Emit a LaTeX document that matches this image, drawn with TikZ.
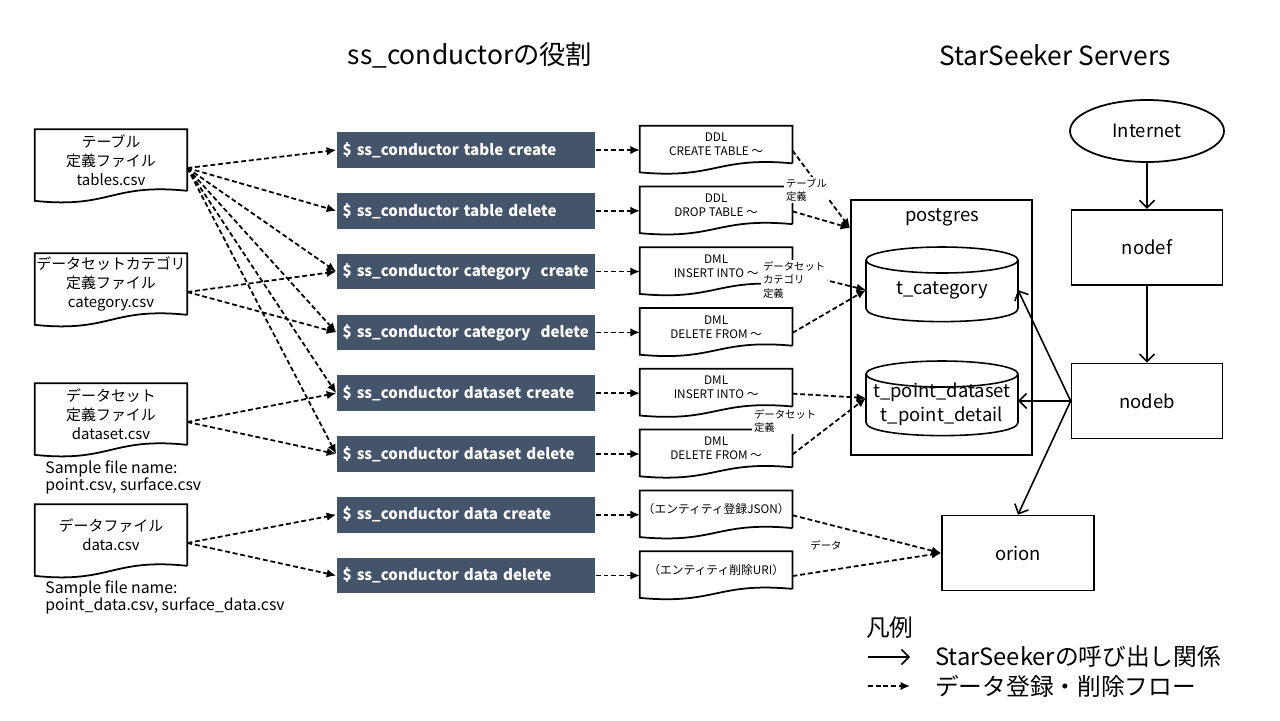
\documentclass[tikz,border=0pt]{standalone}
\usepackage{fontspec}
\setmainfont{Noto Sans CJK JP}
\usetikzlibrary{positioning,arrows.meta,shapes.geometric}
\definecolor{cmdblue}{HTML}{44546A}

\begin{document}
\begin{tikzpicture}[x=0.02cm, y=-0.02cm,
    doc/.style={minimum width=3.04cm, minimum height=1.22cm, inner sep=0pt, align=center, font=\fontsize{8.5}{10.8}\selectfont},
    sqldoc/.style={minimum width=3.04cm, minimum height=0.74cm, inner sep=0pt, align=center, font=\fontsize{6.7}{8}\selectfont},
    cmd/.style={fill=cmdblue, text=white, minimum height=0.71cm, text width=4.94cm, inner xsep=0.12cm, inner ysep=0pt, align=left, font=\fontsize{8.6}{10}\selectfont\bfseries},
    server/.style={draw, line width=1pt, minimum width=3.02cm, minimum height=1.5cm, font=\fontsize{10.5}{12}\selectfont},
    tbl/.style={minimum width=3.04cm, inner sep=0pt, align=center, font=\fontsize{10.5}{13.6}\selectfont},
    flow/.style={dash pattern=on 2.8pt off 1.6pt, line width=1pt, -{Latex[length=1.9mm,width=1.7mm]}},
    call/.style={line width=0.9pt, -{Straight Barb[length=1.5mm,width=3mm]}},
    memo/.style={fill=white, inner sep=1pt, align=left, font=\fontsize{5.9}{7.6}\selectfont},
    sample/.style={anchor=north west, inner sep=0pt, align=left, font=\fontsize{9}{9.8}\selectfont},
    title/.style={font=\fontsize{15}{17}\selectfont},
    legendtext/.style={anchor=west, font=\fontsize{13.5}{16}\selectfont}]

\useasboundingbox (0,0) rectangle (1280,720);

\node[title] (roletitle) at (470,55) {ss\_conductorの役割};
\node[title] (srvtitle) at (1055,55) {StarSeeker Servers};

% input files
\node[doc] (tables) at (111,160) {テーブル\\定義ファイル\\tables.csv};
\node[doc] (category) at (111,284) {\makebox[2.8cm]{データセットカテゴリ}\\定義ファイル\\category.csv};
\node[doc] (dataset) at (111,414) {データセット\\定義ファイル\\dataset.csv};
\node[doc] (datafile) at (111,535) {データファイル\\data.csv};
\node[sample] (dssample) at (45,460) {Sample file name:\\point.csv, surface.csv};
\node[sample] (dtsample) at (45,580) {Sample file name:\\point\_data.csv, surface\_data.csv};

% commands
\node[cmd] (tblcreate) at (466,150) {\$ ss\_conductor table create};
\node[cmd] (tbldelete) [below=0.492cm of tblcreate] {\$ ss\_conductor table delete};
\node[cmd] (catcreate) [below=0.492cm of tbldelete] {\$ ss\_conductor category~ create};
\node[cmd] (catdelete) [below=0.492cm of catcreate] {\$ ss\_conductor category~ delete};
\node[cmd] (dscreate) [below=0.492cm of catdelete] {\$ ss\_conductor dataset create};
\node[cmd] (dsdelete) [below=0.492cm of dscreate] {\$ ss\_conductor dataset delete};
\node[cmd] (datcreate) [below=0.492cm of dsdelete] {\$ ss\_conductor data create};
\node[cmd] (datdelete) [below=0.492cm of datcreate] {\$ ss\_conductor data delete};

% generated statements
\node[sqldoc] (ddlcreate) [right=0.88cm of tblcreate, yshift=0.11cm] {DDL\\CREATE TABLE ～};
\node[sqldoc] (ddldrop) [right=0.88cm of tbldelete, yshift=0.11cm] {DDL\\DROP TABLE ～};
\node[sqldoc] (catinsert) [right=0.88cm of catcreate, yshift=0.11cm] {DML\\INSERT INTO ～};
\node[sqldoc] (catdel) [right=0.88cm of catdelete, yshift=0.11cm] {DML\\DELETE FROM ～};
\node[sqldoc] (dsinsert) [right=0.88cm of dscreate, yshift=0.11cm] {DML\\INSERT INTO ～};
\node[sqldoc] (dsdel) [right=0.88cm of dsdelete, yshift=0.11cm] {DML\\DELETE FROM ～};
\node[sqldoc] (entjson) [right=0.88cm of datcreate, yshift=0.11cm] {（エンティティ登録JSON）};
\node[sqldoc] (enturi) [right=0.88cm of datdelete, yshift=0.11cm] {（エンティティ削除URI）};

% servers
\node[draw, line width=1pt, minimum width=3.62cm, minimum height=5.1cm] (postgres) at (941.5,327.5) {};
\node[font=\fontsize{10.5}{12}\selectfont] (pglabel) at (942,217) {postgres};
\node[tbl] (tcat) at (942,290) {t\_category};
\node[tbl] (tpoint) at (942,404) {t\_point\_dataset\\t\_point\_detail};
\node[draw, ellipse, line width=1pt, minimum width=3.08cm, minimum height=1.24cm, font=\fontsize{10.5}{12}\selectfont] (internet) at (1147,131) {Internet};
\node[server] (nodef) [below=0.92cm of internet] {nodef};
\node[server] (nodeb) [below=1.54cm of nodef] {nodeb};
\node[server, minimum width=3.04cm] (orion) at (1018,553) {orion};

% document outlines
\foreach \n in {tables,category,dataset,datafile}
  \draw[line width=1pt] (\n.south east) -- (\n.north east) -- (\n.north west) -- ([yshift=-0.2cm]\n.south west)
    .. controls ([yshift=-0.36cm]\n.south) and ([yshift=0.16cm]\n.south) .. (\n.south east);
\foreach \n in {ddlcreate,ddldrop,catinsert,catdel,dsinsert,dsdel,entjson,enturi}
  \draw[line width=1pt] (\n.south east) -- (\n.north east) -- (\n.north west) -- ([yshift=-0.18cm]\n.south west)
    .. controls ([yshift=-0.32cm]\n.south) and ([yshift=0.14cm]\n.south) .. (\n.south east);

% cylinders
\foreach \n in {tcat,tpoint} {
  \draw[line width=0.9pt] ([shift={(-1.52cm,0.6cm)}]\n.center) -- ([shift={(-1.52cm,-0.37cm)}]\n.center)
    .. controls ([shift={(-1.52cm,-0.72cm)}]\n.center) and ([shift={(1.52cm,-0.72cm)}]\n.center) .. ([shift={(1.52cm,-0.37cm)}]\n.center)
    -- ([shift={(1.52cm,0.6cm)}]\n.center);
  \draw[line width=0.9pt] ([yshift=0.6cm]\n.center) ellipse[x radius=1.52cm, y radius=0.26cm];
}

% connection points
\foreach \n in {tables,category,dataset,datafile}
  \coordinate (\n-out) at ([yshift=-0.16cm]\n.east);
\foreach \n in {ddlcreate,ddldrop,catinsert,catdel,dsinsert,dsdel,entjson,enturi}
  \coordinate (\n-out) at ([yshift=-0.12cm]\n.east);
\coordinate (pgin) at ([yshift=-0.58cm]postgres.north west);
\coordinate (tcatw) at ([xshift=-1.52cm]tcat.center);
\coordinate (tcate) at ([xshift=1.52cm]tcat.center);
\coordinate (tpointw) at ([xshift=-1.52cm,yshift=0.12cm]tpoint.center);
\coordinate (tpointe) at ([xshift=1.52cm]tpoint.center);

\path[flow]
    (tables-out) edge (tblcreate.west)
    (tables-out) edge (tbldelete.west)
    (tables-out) edge (catcreate.west)
    (tables-out) edge (catdelete.west)
    (tables-out) edge (dscreate.west)
    (tables-out) edge (dsdelete.west)
    (category-out) edge (catcreate.west)
    (category-out) edge (catdelete.west)
    (dataset-out) edge (dscreate.west)
    (dataset-out) edge (dsdelete.west)
    (datafile-out) edge (datcreate.west)
    (datafile-out) edge (datdelete.west);

\path[flow]
    (tblcreate.east) edge (tblcreate.east -| ddlcreate.west)
    (tbldelete.east) edge (tbldelete.east -| ddldrop.west)
    (catcreate.east) edge (catcreate.east -| catinsert.west)
    (catdelete.east) edge (catdelete.east -| catdel.west)
    (dscreate.east) edge (dscreate.east -| dsinsert.west)
    (dsdelete.east) edge (dsdelete.east -| dsdel.west)
    (datcreate.east) edge (datcreate.east -| entjson.west)
    (datdelete.east) edge (datdelete.east -| enturi.west);

\path[flow]
    (ddlcreate-out) edge (pgin)
    (ddldrop-out) edge (pgin)
    (catinsert-out) edge (tcatw)
    (catdel-out) edge (tcatw)
    (dsinsert-out) edge (tpointw)
    (dsdel-out) edge (tpointw)
    (entjson-out) edge (orion.west)
    (enturi-out) edge (orion.west);

\path[call]
    (internet) edge (nodef)
    (nodef) edge (nodeb)
    (nodeb.west) edge (tcate)
    (nodeb.west) edge (tpointe |- nodeb.west)
    (nodeb.west) edge (orion.north);

% notes on the flows
\node[memo, anchor=west] (tblnote) at (784,190) {テーブル\\定義};
\node[memo, anchor=west] (catnote) at (761,280) {データセット\\カテゴリ\\定義};
\node[memo, anchor=west] (dsnote) at (752,421) {データセット\\定義};
\node[memo] (datanote) at (826,545) {データ};

% legend
\node[legendtext] (legend) at (860,628) {凡例};
\coordinate (lgcall) at (868,657);
\coordinate (lgcallend) at (910,657);
\coordinate (lgflow) at (868,686);
\coordinate (lgflowend) at (910,686);
\node[legendtext] (lgcalltext) at (929,657) {StarSeekerの呼び出し関係};
\node[legendtext] (lgflowtext) at (929,686) {データ登録・削除フロー};
\path[call] (lgcall) edge (lgcallend);
\path[flow] (lgflow) edge (lgflowend);
\end{tikzpicture}
\end{document}
